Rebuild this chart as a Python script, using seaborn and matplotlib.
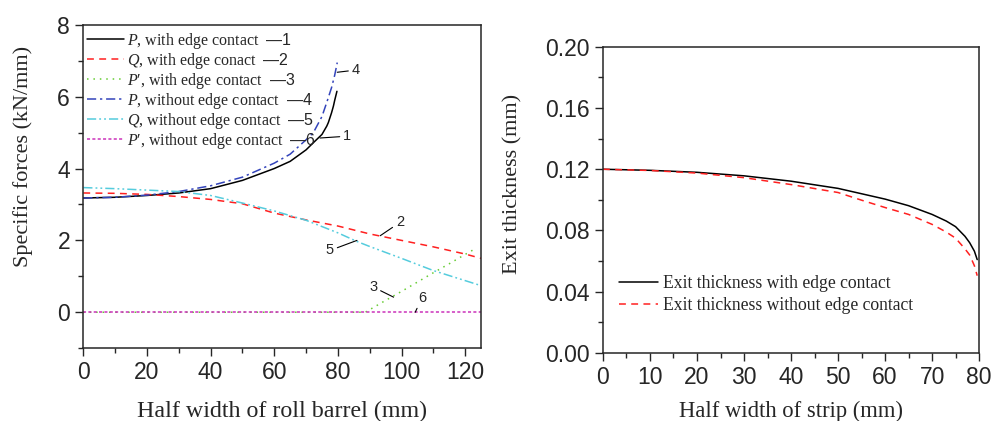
import numpy as np
import pandas as pd
import seaborn as sns
import matplotlib.pyplot as plt
from matplotlib.ticker import MultipleLocator, FormatStrFormatter

# ---- left panel: specific forces along the roll barrel
p_with_x = [0, 10, 20, 30, 40, 50, 60, 65, 70, 72.3, 75, 76.5, 77, 78, 78.6, 79, 79.7]
p_with_y = [3.18, 3.20, 3.25, 3.32, 3.44, 3.67, 4.00, 4.20, 4.52, 4.72, 4.95, 5.18, 5.28, 5.55, 5.74, 5.90, 6.15]

p_without_x = [0, 10, 20, 30, 40, 50, 60, 65, 70, 72.3, 75, 76.5, 78, 79, 79.8]
p_without_y = [3.18, 3.20, 3.26, 3.36, 3.52, 3.76, 4.15, 4.40, 4.80, 5.00, 5.45, 5.84, 6.25, 6.60, 6.95]

q_with_x = [0, 10, 20, 30, 40, 50, 60, 70, 80, 90, 100, 110, 120, 125]
q_with_y = [3.32, 3.31, 3.28, 3.22, 3.14, 3.02, 2.76, 2.57, 2.40, 2.18, 2.00, 1.82, 1.62, 1.50]

q_without_x = [0, 10, 20, 30, 40, 50, 60, 70, 80, 86, 90, 100, 110, 120, 125]
q_without_y = [3.47, 3.44, 3.40, 3.36, 3.25, 3.04, 2.82, 2.56, 2.21, 1.97, 1.83, 1.50, 1.16, 0.88, 0.74]

pp_with_x = [0, 88.6, 95, 100, 105, 110, 115, 120, 122.6]
pp_with_y = [0, 0, 0.33, 0.58, 0.84, 1.10, 1.35, 1.61, 1.74]

pp_without_x = [0, 125]
pp_without_y = [0, 0]

# curve numbers: (label, curve point, text point)
curve_marks = [
    ("1", (74.4, 4.85), (81.6, 4.90)),
    ("2", (93.3, 2.13), (98.2, 2.50)),
    ("3", (97.5, 0.42), (92.4, 0.70)),
    ("4", (79.8, 6.68), (84.3, 6.74)),
    ("5", (86.0, 2.00), (78.8, 1.72)),
    ("6", (104.3, 0.0), (106.4, 0.20)),
]

# ---- right panel: exit thickness
strip_x = [0, 10, 20, 30, 40, 50, 55, 60, 65, 70, 73, 75, 77, 78, 79, 79.6]
h_with = [0.1200, 0.1193, 0.1180, 0.1157, 0.1122, 0.1075, 0.1040, 0.1005, 0.0962,
          0.0905, 0.0862, 0.0825, 0.0762, 0.0720, 0.0665, 0.0610]
h_without = [0.1200, 0.1192, 0.1175, 0.1145, 0.1100, 0.1048, 0.0998, 0.0950, 0.0905,
             0.0840, 0.0790, 0.0750, 0.0680, 0.0640, 0.0570, 0.0505]

sns.set_style("ticks")
plt.rcParams["font.family"] = ["Liberation Sans", "DejaVu Sans"]
plt.rcParams["mathtext.fontset"] = "custom"
plt.rcParams["mathtext.rm"] = "Liberation Serif"
plt.rcParams["mathtext.it"] = "Liberation Serif:italic"
plt.rcParams["mathtext.sf"] = "Liberation Sans"
plt.rcParams["axes.linewidth"] = 1.1

serif = ["Liberation Serif", "DejaVu Serif"]

fig = plt.figure(figsize=(9.94, 4.21), dpi=100)
ax1 = fig.add_axes([0.0838, 0.173, 0.4002, 0.768])
ax2 = fig.add_axes([0.6066, 0.1615, 0.3784, 0.7275])

curves = [
    (p_with_x, p_with_y, "black", (None, None), r"$P$, with edge contact  $\mathsf{—1}$"),
    (q_with_x, q_with_y, "#ff2020", (4.5, 3.5), r"$Q$, with edge conact  $\mathsf{—2}$"),
    (pp_with_x, pp_with_y, "#66cc33", (1, 3.2), r"$P$′, with edge contact  $\mathsf{—3}$"),
    (p_without_x, p_without_y, "#3344bb", (6, 2.5, 1.5, 2.5), r"$P$, without edge contact  $\mathsf{—4}$"),
    (q_without_x, q_without_y, "#55ccdd", (6, 2, 1.2, 2, 1.2, 2), r"$Q$, without edge contact  $\mathsf{—5}$"),
    (pp_without_x, pp_without_y, "#cc33bb", (2, 1.5), r"$P$′, without edge contact  $\mathsf{—6}$"),
]

for xs, ys, col, dash, lab in curves:
    df = pd.DataFrame({"x": xs, "y": ys})
    sns.lineplot(data=df, x="x", y="y", ax=ax1, color=col, lw=1.1, label=lab)
    if dash[0] is not None:
        ax1.lines[-1].set_dashes(dash)

for txt, pt, tpos in curve_marks:
    ha = "right" if tpos[0] < pt[0] else "left"
    va = "center"
    if txt == "6":
        ha, va = "center", "bottom"
    ax1.annotate(txt, xy=pt, xytext=tpos, ha=ha, va=va, fontsize=10.5,
                 arrowprops=dict(arrowstyle="-", color="black", lw=0.8,
                                 shrinkA=0, shrinkB=0))

ax1.set_xlim(0, 125)
ax1.set_ylim(-1, 8)
ax1.xaxis.set_major_locator(MultipleLocator(20))
ax1.xaxis.set_minor_locator(MultipleLocator(10))
ax1.yaxis.set_major_locator(MultipleLocator(2))
ax1.yaxis.set_minor_locator(MultipleLocator(1))
ax1.set_xlabel("Half width of roll barrel (mm)", family=serif, fontsize=17.3, labelpad=12)
ax1.set_ylabel("Specific forces (kN/mm)", family=serif, fontsize=16)
ax1.yaxis.set_label_coords(-0.126, 0.593)
leg1 = ax1.legend(loc="upper left", bbox_to_anchor=(-0.014, 1.012), frameon=False,
                  prop={"family": serif, "size": 11.5}, handlelength=2.3,
                  handletextpad=0.2, labelspacing=0.0, borderaxespad=0.2)

df2 = pd.DataFrame({"x": strip_x, "with": h_with, "without": h_without})
sns.lineplot(data=df2, x="x", y="with", ax=ax2, color="black", lw=1.1,
             label="Exit thickness with edge contact")
sns.lineplot(data=df2, x="x", y="without", ax=ax2, color="#ff2020", lw=1.1,
             label="Exit thickness without edge contact")
ax2.lines[-1].set_dashes((4.5, 3.5))

ax2.set_xlim(0, 80)
ax2.set_ylim(0, 0.20)
ax2.xaxis.set_major_locator(MultipleLocator(10))
ax2.xaxis.set_minor_locator(MultipleLocator(5))
ax2.yaxis.set_major_locator(MultipleLocator(0.04))
ax2.yaxis.set_minor_locator(MultipleLocator(0.02))
ax2.yaxis.set_major_formatter(FormatStrFormatter("%.2f"))
ax2.set_xlabel("Half width of strip (mm)", family=serif, fontsize=16.3, labelpad=8)
ax2.set_ylabel("Exit thickness (mm)", family=serif, fontsize=16)
ax2.yaxis.set_label_coords(-0.213, 0.552)
leg2 = ax2.legend(loc="lower left", bbox_to_anchor=(0.0, 0.075), frameon=False,
                  prop={"family": serif, "size": 12.7}, handlelength=2.2,
                  handletextpad=0.3, labelspacing=0.3)

for ax in (ax1, ax2):
    ax.tick_params(which="both", direction="out", top=False, right=False,
                   labelsize=16.5, width=1.0)
    ax.tick_params(which="major", length=6)
    ax.tick_params(which="minor", length=3.5)
    for s in ax.spines.values():
        s.set_visible(True)

fig.savefig("out.png", dpi=100)
